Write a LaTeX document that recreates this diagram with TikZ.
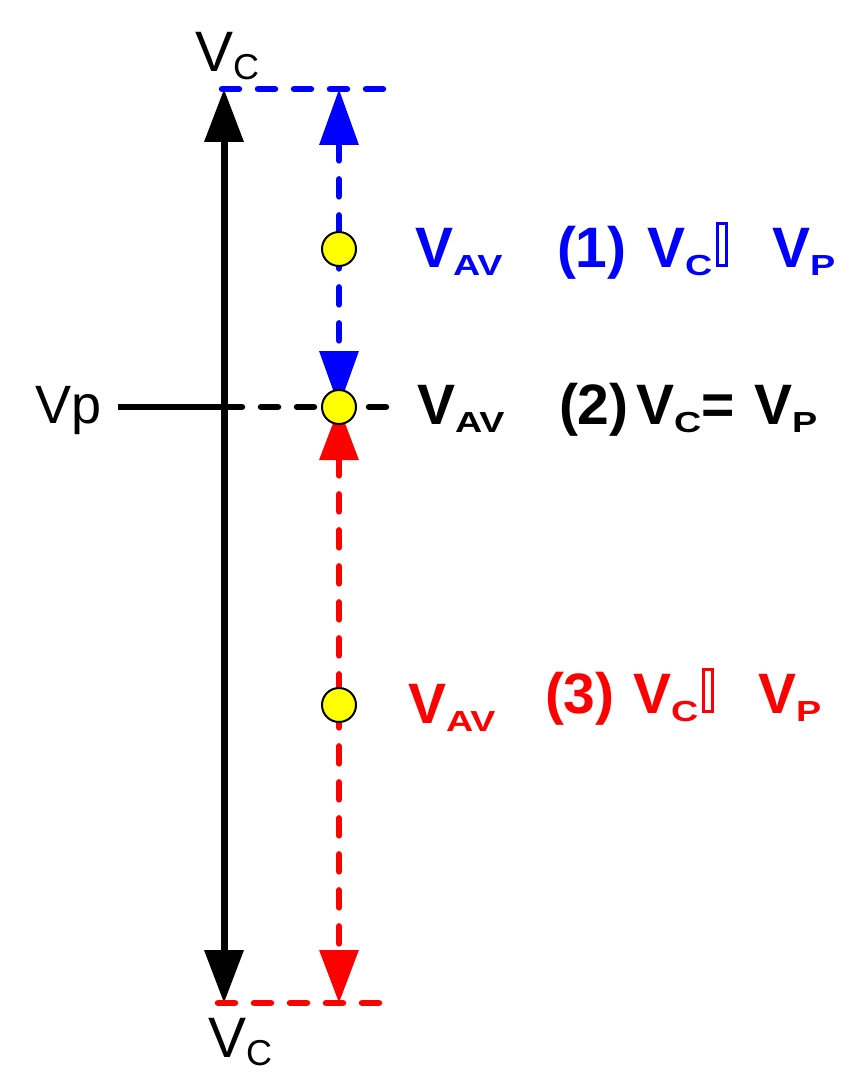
\documentclass[tikz,border=0pt]{standalone}
\usepackage{fontspec}
\usepackage{graphicx}
\setmainfont{Liberation Sans}
\usetikzlibrary{arrows.meta,backgrounds}
\definecolor{cblue}{RGB}{0,0,255}
\definecolor{cred}{RGB}{255,0,0}
\definecolor{cyel}{RGB}{255,255,0}
\newcommand\bigreg{\fontsize{57}{60}\selectfont}
\newcommand\subreg[1]{\raisebox{-8pt}{\fontsize{36}{38}\selectfont #1}}
\newcommand\bigbold{\bfseries\fontsize{57}{60}\selectfont}
\newcommand\subbold[1]{\raisebox{-8pt}{\scalebox{1.3}[1]{\fontsize{29}{30}\selectfont #1}}}
\newcommand\tofubox{\hspace{4pt}{\fboxsep=0pt\fboxrule=3pt\raisebox{3pt}{\fbox{\rule{0pt}{39pt}\hspace*{6pt}}}}}
\tikzset{
  dot/.style={circle,draw=black,fill=cyel,line width=2pt,minimum size=34pt,inner sep=0pt},
  lbl/.style={anchor=base west,inner sep=0pt,outer sep=0pt},
  shaft/.style={line width=7pt},
  dline/.style={line width=6.5pt,line cap=round,dash pattern=on 17pt off 19pt},
}
\begin{document}
\begin{tikzpicture}[x=1pt,y=-1pt]
\useasboundingbox (0,0) rectangle (851,1091);
% coordinates
\coordinate (top) at (224,89);
\coordinate (bot) at (224,1003);
\coordinate (tr) at (385,89);
\coordinate (tl) at (222,89);
\coordinate (brr) at (382,1003);
\coordinate (bl) at (218,1003);
\coordinate (vpl) at (118,407);
\coordinate (vpk) at (165,407);
\coordinate (vpm) at (224,407);
\coordinate (vpd) at (225,407);
\coordinate (vpr) at (389,407);
\coordinate (btop) at (339,89);
\coordinate (rbot) at (339,1003);
% dots
\node[dot] (c1) at (339,249) {};
\node[dot] (c2) at (339,407) {};
\node[dot] (c3) at (339,705) {};
\begin{scope}[on background layer]
\draw[shaft,{Triangle[width=38pt,length=53pt]}-{Triangle[width=38pt,length=53pt]}] (top) -- (bot);
\draw[dline,cblue,{Triangle[width=38pt,length=56pt]}-{Triangle[width=38pt,length=56pt]}] (btop) -- (c2.center);
\draw[dline,cred,{Triangle[width=38pt,length=53pt]}-{Triangle[width=38pt,length=53pt]}] (c2.center) -- (rbot);
\draw[line width=6.5pt] (vpl) -- (vpk);
\draw[line width=5.5pt] (vpk) -- (vpm);
\draw[dline,black] (vpd) -- (vpr);
\draw[dline,cblue] (tl) -- (tr);
\draw[dline,cred] (bl) -- (brr);
\end{scope}
% regular labels
\node[lbl] (vct) at (195,72) {\bigreg V\subreg{C}};
\node[lbl] (vcb) at (208,1057) {\bigreg V\subreg{C}};
\node[lbl] (vp) at (35,423) {\fontsize{54}{56}\selectfont Vp};
% blue row
\node[lbl,text=cblue] (b1) at (415,267) {\bigbold V\subbold{AV}};
\node[lbl,text=cblue] (b2) at (557,267) {\bigbold (1)};
\node[lbl,text=cblue] (b3) at (647,267) {\bigbold V\subbold{C}\tofubox};
\node[lbl,text=cblue] (b4) at (772,267) {\bigbold V\subbold{P}};
% black row
\node[lbl] (k1) at (417,424) {\bigbold V\subbold{AV}};
\node[lbl] (k2) at (559,424) {\bigbold (2)};
\node[lbl] (k3) at (636,424) {\bigbold V\subbold{C}=};
\node[lbl] (k4) at (754,424) {\bigbold V\subbold{P}};
% red row
\node[lbl,text=cred] (r1) at (408,723) {\bigbold V\subbold{AV}};
\node[lbl,text=cred] (r2) at (545,713) {\bigbold (3)};
\node[lbl,text=cred] (r3) at (633,713) {\bigbold V\subbold{C}\tofubox};
\node[lbl,text=cred] (r4) at (758,713) {\bigbold V\subbold{P}};
\end{tikzpicture}
\end{document}
